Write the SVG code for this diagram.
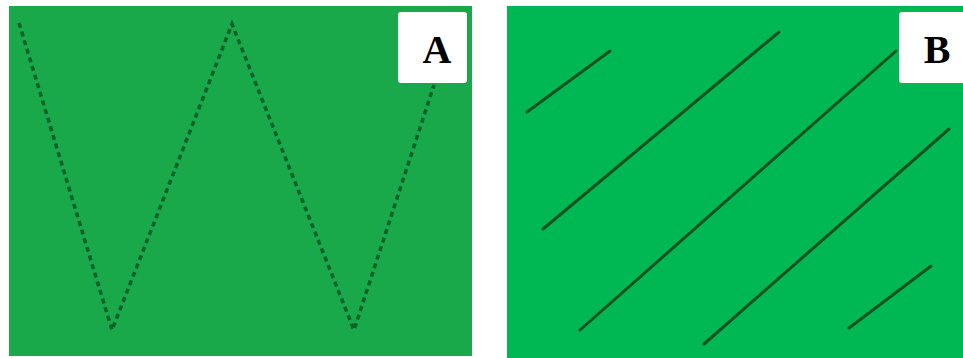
<svg xmlns="http://www.w3.org/2000/svg" width="963" height="358" viewBox="0 0 963 358">
<style>
.lbl{fill:#ffffff;}
.lt{font-family:"Liberation Serif",serif;font-weight:bold;font-size:40px;fill:#000;text-anchor:middle;}
.dash{fill:none;stroke:#0b6128;stroke-width:3.5;stroke-dasharray:5 4;stroke-linejoin:miter;}
.solid{fill:none;stroke:#08531f;stroke-width:3;stroke-linecap:round;}
</style>
<rect width="963" height="358" fill="#ffffff"/>
<g id="panelA">
<rect x="9" y="6" width="463" height="350" fill="#19a84a"/>
<polyline class="dash" points="19,23 112,330 232,24 354,330 434,85"/>
<rect class="lbl" x="398" y="12" width="69" height="71" rx="3"/>
<text class="lt" x="437" y="63">A</text>
</g>
<g id="panelB">
<rect x="507" y="6" width="456" height="352" fill="#00b853"/>
<line class="solid" x1="527" y1="112" x2="610" y2="51"/>
<line class="solid" x1="543" y1="229" x2="779" y2="32"/>
<line class="solid" x1="580" y1="330" x2="896" y2="51"/>
<line class="solid" x1="704" y1="344" x2="949" y2="129"/>
<line class="solid" x1="849" y1="328" x2="931" y2="266"/>
<rect class="lbl" x="899" y="12" width="70" height="71" rx="3"/>
<text class="lt" x="937" y="63">B</text>
</g>
</svg>
